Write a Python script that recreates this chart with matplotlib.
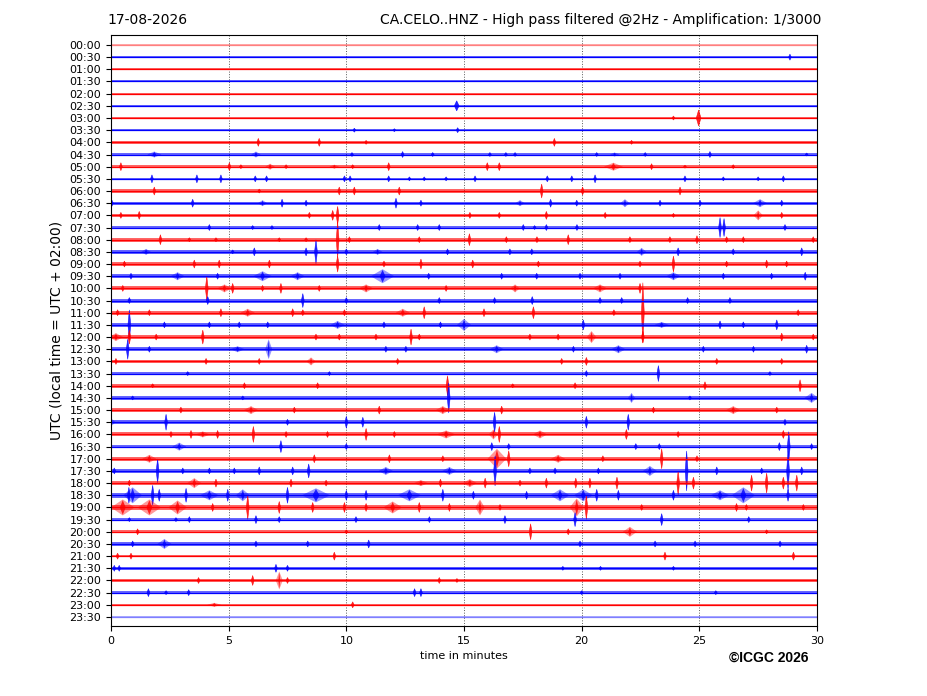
import matplotlib
matplotlib.use("Agg")
import matplotlib.pyplot as plt

# ---------------- data ----------------
row_labels = [f"{h:02d}:{m:02d}" for h in range(24) for m in (0, 30)]
row_colors = ["red" if i % 2 == 0 else "blue" for i in range(48)]

# background noise half-amplitude per row (pixels)
noise_px = [0.5, 1.0, 1.0, 1.0, 1.0, 1.0, 1.2, 1.2, 1.2, 1.3, 1.3, 1.3,
            1.6, 1.6, 1.6, 1.6, 2.0, 2.0, 2.0, 2.2, 2.0, 2.0, 2.0, 2.0,
            2.0, 1.8, 1.8, 1.4, 1.8, 1.6, 2.0, 2.0, 2.0, 1.8, 2.0, 2.0,
            2.2, 2.5, 2.5, 1.6, 1.6, 1.6, 1.2, 1.2, 1.2, 1.2, 1.0, 0.5]
row_alpha = [0.5] + [1.0] * 46 + [0.5]

# events per row: (minute, half-amplitude px, half-width minutes)
events = {
    1: [(28.85, 3)],
    5: [(14.69, 5, 0.1)],
    6: [(23.9, 2), (24.97, 8, 0.1)],
    7: [(10.34, 2), (12.04, 1.5), (14.73, 2.5)],
    8: [(6.26, 4), (8.85, 4), (10.84, 2), (18.84, 4), (22.12, 2)],
    9: [(1.84, 3, 0.3), (6.16, 3, 0.2), (10.24, 2), (12.39, 3), (13.67, 2), (16.1, 2),
        (16.78, 2), (17.17, 2), (20.64, 2), (21.4, 2, 0.2), (22.7, 2), (25.45, 3), (29.56, 1.5)],
    10: [(0.42, 4), (5.03, 4), (5.52, 2), (6.76, 3, 0.2), (7.44, 2), (9.49, 2, 0.2), (10.27, 2),
         (11.8, 4), (15.99, 4), (16.5, 4), (21.35, 4, 0.4), (22.97, 3), (24.39, 1.5), (26.44, 2)],
    11: [(1.74, 4), (3.65, 4), (4.67, 4), (6.13, 3), (6.61, 3), (9.92, 3), (10.16, 3), (11.8, 3),
         (12.68, 2), (13.31, 2), (14.24, 2), (15.47, 3), (18.54, 3), (19.58, 3), (20.57, 4),
         (24.39, 3), (26.02, 2), (27.5, 2), (28.57, 3)],
    12: [(1.84, 4), (6.3, 2), (9.7, 4), (10.34, 4), (12.25, 4), (18.3, 7), (20.04, 4), (24.18, 4)],
    13: [(0.04, 3), (3.47, 4), (6.44, 3, 0.2), (7.27, 4), (8.29, 3), (12.11, 5), (13.17, 3),
         (17.38, 3, 0.2), (18.68, 4), (19.79, 3), (21.84, 4, 0.2), (23.33, 3), (25.03, 3),
         (27.58, 4, 0.3), (28.5, 3)],
    14: [(0.42, 3), (1.2, 4), (8.43, 3), (9.42, 5), (9.63, 9), (15.25, 3), (16.5, 3), (18.5, 4),
         (21.0, 3), (23.9, 2), (27.5, 5, 0.2), (28.5, 3)],
    15: [(4.18, 3), (6.02, 2), (6.84, 2), (11.4, 3), (13.03, 3), (13.95, 3), (17.52, 3), (18.0, 2),
         (18.5, 3), (19.8, 3), (25.88, 10), (26.05, 9), (28.64, 3)],
    16: [(2.1, 5), (3.33, 2), (4.46, 2), (7.15, 2), (8.29, 2), (9.63, 18), (10.13, 3), (13.1, 3),
         (15.23, 6), (16.8, 3), (18.1, 3), (19.43, 5), (22.05, 3), (23.75, 3), (24.9, 4),
         (26.16, 3), (26.87, 3), (29.84, 3)],
    17: [(1.49, 3, 0.2), (5.17, 2), (6.09, 4), (8.29, 4), (8.71, 12), (10.0, 3), (11.33, 3, 0.2),
         (14.3, 3), (16.95, 3), (17.88, 3), (22.55, 4, 0.2), (24.1, 4), (26.44, 3), (29.35, 4)],
    18: [(0.57, 3), (3.54, 4), (4.6, 4), (6.73, 4), (9.63, 8), (11.6, 3), (13.17, 5), (15.37, 4),
         (18.16, 3), (22.48, 3), (23.9, 8), (26.16, 3), (27.86, 4), (28.71, 3)],
    19: [(0.85, 3), (2.83, 4, 0.3), (4.53, 3), (6.44, 5, 0.4), (7.93, 4, 0.3), (11.54, 7, 0.5),
         (13.5, 3), (16.6, 3), (18.09, 3), (19.93, 3), (21.63, 3), (23.9, 4, 0.3), (26.02, 3),
         (28.07, 3), (29.5, 4)],
    20: [(0.5, 3), (4.07, 12), (4.82, 4, 0.3), (5.17, 5), (6.44, 3), (7.22, 5), (8.85, 3),
         (10.84, 4, 0.3), (14.24, 3), (17.17, 4, 0.2), (20.78, 4, 0.3), (22.48, 5)],
    21: [(0.78, 3), (4.11, 4), (8.15, 7), (10.0, 3), (13.95, 3), (16.3, 3), (17.9, 4), (20.78, 3),
         (21.7, 3), (24.5, 3), (26.3, 3)],
    22: [(0.28, 3), (1.63, 3), (4.67, 4), (5.81, 4, 0.3), (7.72, 4), (8.15, 3), (9.92, 3),
         (12.4, 4, 0.3), (13.31, 6), (15.85, 4), (17.95, 6), (21.37, 3), (22.6, 30), (29.2, 3)],
    23: [(0.78, 15), (2.27, 3), (4.18, 3), (5.45, 3), (6.66, 3), (9.63, 4, 0.3), (11.6, 3),
         (14.0, 3), (15.0, 6, 0.3), (20.07, 5), (23.4, 3, 0.3), (25.88, 4), (26.87, 3), (28.29, 5)],
    24: [(0.21, 4, 0.3), (0.78, 7), (1.92, 3), (3.9, 7), (8.71, 3), (9.7, 3), (11.26, 3),
         (12.75, 8), (13.1, 3), (17.8, 3), (19.0, 3), (20.42, 6, 0.2), (22.6, 6), (28.5, 4),
         (29.84, 3)],
    25: [(0.71, 10), (1.63, 3), (5.38, 3, 0.3), (6.7, 10, 0.15), (11.68, 3), (12.53, 3),
         (16.39, 4, 0.3), (19.65, 3), (21.56, 4, 0.3), (25.17, 3), (27.3, 3), (29.56, 4)],
    26: [(0.21, 3), (4.04, 3), (6.3, 3), (8.5, 4, 0.2), (12.18, 3), (19.15, 3), (20.2, 4),
         (25.74, 3), (28.5, 3)],
    27: [(3.26, 2), (9.28, 2), (20.2, 3), (23.26, 8), (28.0, 2)],
    28: [(1.77, 2), (5.67, 3), (8.78, 3), (14.3, 10), (17.07, 2), (19.72, 3), (25.24, 4),
         (29.28, 6)],
    29: [(0.92, 2), (5.6, 2), (14.35, 15), (22.12, 5, 0.15), (24.6, 2), (29.77, 5, 0.3)],
    30: [(2.97, 3), (5.95, 4, 0.3), (7.79, 3), (11.4, 4), (14.1, 4, 0.3), (16.6, 4), (23.05, 3),
         (26.44, 4, 0.3), (28.29, 3)],
    31: [(0.0, 4, 0.2), (2.34, 8), (7.5, 3), (10.0, 6), (10.7, 5), (16.3, 10), (20.2, 6),
         (21.98, 8), (28.64, 3)],
    32: [(2.55, 3), (3.4, 4), (3.9, 3, 0.3), (4.53, 4), (6.05, 8), (7.44, 3), (9.2, 3),
         (10.84, 6), (12.04, 3), (14.24, 4, 0.4), (16.25, 5, 0.2), (16.5, 8), (18.23, 4, 0.3),
         (21.9, 5), (24.1, 3), (28.57, 4)],
    33: [(2.9, 4, 0.3), (7.22, 6), (10.0, 3), (16.18, 4), (16.9, 3), (22.3, 3), (23.3, 3),
         (28.4, 4), (28.8, 15), (29.77, 3)],
    34: [(1.63, 4, 0.3), (8.64, 4), (11.83, 4), (14.1, 3), (16.4, 10, 0.4), (16.9, 8),
         (19.0, 4, 0.3), (20.9, 3), (23.4, 10), (24.9, 3)],
    35: [(0.14, 3), (1.98, 12), (3.05, 3), (4.18, 3), (5.24, 3), (6.3, 4), (7.72, 4), (8.4, 7),
         (11.68, 4, 0.3), (14.38, 4, 0.3), (16.32, 15), (17.8, 3), (18.87, 3), (20.71, 3),
         (22.9, 5, 0.3), (24.46, 20), (25.74, 4), (27.65, 3), (28.77, 20), (29.35, 4)],
    36: [(0.78, 3), (3.54, 5, 0.3), (4.46, 4), (7.65, 4), (9.14, 3), (13.17, 3, 0.3), (14.0, 4),
         (15.25, 4, 0.3), (15.9, 5), (17.38, 3), (18.5, 5), (19.75, 5), (20.35, 5), (21.5, 6),
         (24.1, 12), (24.75, 6), (27.22, 8), (27.86, 10), (28.57, 6), (29.14, 8)],
    37: [(0.76, 8), (0.92, 8, 0.4), (1.77, 10), (2.05, 6), (3.19, 7), (4.18, 5, 0.4), (4.96, 6),
         (5.6, 6, 0.3), (7.5, 8), (8.71, 7, 0.6), (10.0, 5), (10.84, 5), (12.68, 6, 0.5),
         (14.1, 6), (15.4, 4), (17.66, 4), (19.08, 6, 0.4), (20.07, 6, 0.4), (20.64, 6),
         (21.56, 5), (23.9, 5), (25.88, 5, 0.4), (26.87, 8, 0.5), (28.77, 6)],
    38: [(0.5, 8, 0.5), (1.63, 8, 0.5), (2.83, 7, 0.4), (4.32, 4), (5.81, 12), (7.15, 6),
         (8.57, 5), (9.92, 5), (10.84, 4), (11.97, 6, 0.4), (13.1, 5), (14.38, 4),
         (15.68, 8, 0.2), (16.53, 3), (19.79, 9, 0.3), (20.2, 12), (22.55, 3), (26.58, 4),
         (27.0, 3), (29.42, 3)],
    39: [(0.78, 2), (2.76, 2), (3.33, 3), (6.16, 4), (7.15, 3), (10.41, 3), (13.53, 3),
         (16.74, 4), (19.72, 7), (23.4, 6), (27.1, 3)],
    40: [(1.13, 3), (10.0, 2), (17.83, 8), (19.43, 3), (22.05, 5, 0.3), (27.86, 2)],
    41: [(0.92, 3), (2.27, 5, 0.3), (6.16, 3), (8.36, 3), (10.95, 4), (19.93, 3), (23.12, 3),
         (24.82, 3), (28.43, 3)],
    42: [(0.28, 3), (0.85, 3), (9.49, 4), (23.54, 4), (29.0, 4)],
    43: [(0.14, 3), (0.35, 3), (7.01, 4), (7.5, 3), (19.2, 2), (20.8, 2), (23.9, 2)],
    44: [(3.72, 3), (6.02, 5), (7.15, 9, 0.15), (7.5, 3), (13.95, 3), (14.7, 2)],
    45: [(1.59, 4), (2.34, 2), (3.3, 3), (12.9, 4), (13.17, 4), (20.0, 2), (25.7, 2)],
    46: [(4.39, 2, 0.3), (10.27, 3)],
}

x_ticks = [0, 5, 10, 15, 20, 25, 30]
title_left = "17-08-2026"
title_right = "CA.CELO..HNZ - High pass filtered @2Hz - Amplification: 1/3000"
ylabel = "UTC (local time = UTC + 02:00)"
xlabel = "time in minutes"
copyright_text = "\u00a9ICGC 2026"

# ---------------- plot ----------------
fig = plt.figure(figsize=(9.27, 6.96), dpi=100)
ax = fig.add_axes([111 / 927, 1 - 626 / 696, 706 / 927, 591 / 696])

PX_PER_ROW = 12.17
for i in range(48):
    c = row_colors[i]
    al = row_alpha[i]
    h = noise_px[i] / PX_PER_ROW
    ax.fill_between([0, 30], [i - h, i - h], [i + h, i + h], color=c, lw=0, alpha=al * 0.6)
    ax.plot([0, 30], [i, i], color=c, lw=0.9, alpha=al)
    for ev in events.get(i, []):
        t, a = ev[0], ev[1]
        w = ev[2] if len(ev) > 2 else 0.06
        a = a / PX_PER_ROW
        if w > 0.1:
            # emergent burst: fuzzy envelope plus a sharp core
            ax.fill([t - w, t, t + w, t], [i, i - a, i, i + a], color=c, lw=0, alpha=0.4)
            ax.fill([t - w * 0.25, t, t + w * 0.25, t], [i, i - a * 0.9, i, i + a * 0.9],
                    color=c, lw=0, alpha=0.8)
        else:
            ax.fill([t - w, t, t + w, t], [i, i - a, i, i + a], color=c, lw=0.4, alpha=0.85)

ax.set_xlim(0, 30)
ax.set_ylim(47.74, -0.82)
ax.set_xticks(x_ticks)
ax.set_yticks(range(48))
ax.set_yticklabels(row_labels)
ax.tick_params(labelsize=8)
for xv in x_ticks[1:-1]:
    ax.axvline(xv, color="0.35", lw=0.7, ls=":", zorder=0)
ax.set_ylabel(ylabel, fontsize=10)
ax.set_xlabel(xlabel, fontsize=8)

fig.text(107 / 927, 1 - 20 / 696, title_left, fontsize=10, ha="left", va="center")
fig.text(821 / 927, 1 - 20 / 696, title_right, fontsize=10, ha="right", va="center")
fig.text(769 / 927, 1 - 658 / 696, copyright_text, fontsize=10, fontweight="bold",
         family="Liberation Sans", ha="center", va="center")

fig.savefig("out.png", dpi=100)
